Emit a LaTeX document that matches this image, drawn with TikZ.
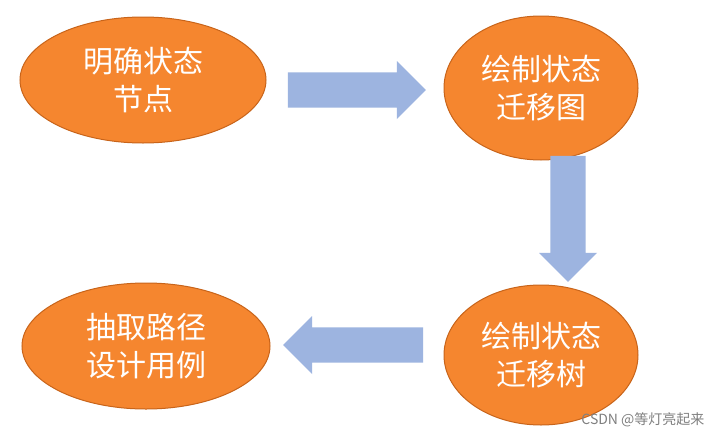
\documentclass[tikz,border=0pt]{standalone}
\usepackage{fontspec}
\newfontfamily\cjk{Noto Sans CJK SC}
\usetikzlibrary{shapes.geometric,shapes.arrows}
\definecolor{org}{HTML}{F5862F}
\definecolor{orgline}{HTML}{C8641A}
\definecolor{arr}{HTML}{9DB4E0}
\begin{document}
\begin{tikzpicture}[x=1pt,y=-1pt,
  st/.style={ellipse,fill=org,draw=orgline,line width=1pt,text=white,font=\cjk\fontsize{30}{38}\selectfont,align=center,inner sep=0pt},
  ar/.style={single arrow,fill=arr,draw=none,minimum height=#1,minimum width=58pt,inner xsep=0pt,inner ysep=11pt,single arrow tip angle=90}]
\useasboundingbox (0,0) rectangle (712,439);
\fill[white] (0,0) rectangle (712,439);
\node[st,minimum width=246pt,minimum height=126pt] (a) at (143,80) {明确状态\\节点};
\node[st,minimum width=194pt,minimum height=144pt] (b) at (541,88) {绘制状态\\迁移图};
\node[st,minimum width=194pt,minimum height=140pt] (c) at (541,355) {绘制状态\\迁移树};
\node[st,minimum width=248pt,minimum height=126pt] (d) at (146,346) {抽取路径\\设计用例};
\node[ar=138pt] (r) at (348,90) {};
\node[ar=126pt,rotate=-90] (dn) at (568,210) {};
\node[ar=140pt,rotate=180] (l) at (362,345) {};
\node[text=gray,font=\cjk\fontsize{14}{16}\selectfont,anchor=east] (w) at (708,420) {CSDN @等灯亮起来};
\end{tikzpicture}
\end{document}
